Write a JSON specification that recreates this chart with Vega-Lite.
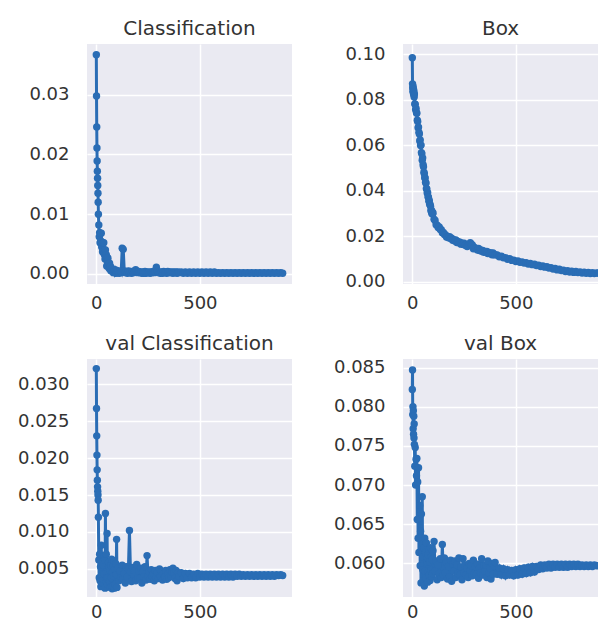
{
  "$schema": "https://vega.github.io/schema/vega-lite/v6.json",
  "padding": {"top": 19, "left": 0, "right": 0, "bottom": 0},
  "background": "white",
  "datasets": {
    "loss": [
      {"e":0,"c":0.0367,"b":0.0985,"vc":0.0321,"vb":0.0822},
      {"e":1,"c":0.0298,"b":0.0870,"vc":0.0267,"vb":0.0847},
      {"e":2,"c":0.0246,"b":0.0852,"vc":0.0230,"vb":0.0790},
      {"e":3,"c":0.0211,"b":0.0838,"vc":0.0204,"vb":0.0800},
      {"e":4,"c":0.0189,"b":0.0858,"vc":0.0184,"vb":0.0772},
      {"e":5,"c":0.0172,"b":0.0830,"vc":0.0170,"vb":0.0795},
      {"e":6,"c":0.0160,"b":0.0845,"vc":0.0161,"vb":0.0765},
      {"e":7,"c":0.0148,"b":0.0822,"vc":0.0155,"vb":0.0788},
      {"e":8,"c":0.0135,"b":0.0835,"vc":0.0150,"vb":0.0760},
      {"e":9,"c":0.0120,"b":0.0812,"vc":0.0143,"vb":0.0778},
      {"e":10,"c":0.0100,"b":0.0825,"vc":0.0120,"vb":0.0752},
      {"e":12,"c":0.0082,"b":0.0782,"vc":0.0062,"vb":0.0724},
      {"e":14,"c":0.0062,"b":0.0780,"vc":0.0038,"vb":0.0748},
      {"e":16,"c":0.0069,"b":0.0756,"vc":0.0070,"vb":0.0700},
      {"e":18,"c":0.0052,"b":0.0762,"vc":0.0034,"vb":0.0733},
      {"e":20,"c":0.0068,"b":0.0743,"vc":0.0053,"vb":0.0712},
      {"e":22,"c":0.0055,"b":0.0741,"vc":0.0026,"vb":0.0734},
      {"e":24,"c":0.0068,"b":0.0710,"vc":0.0082,"vb":0.0656},
      {"e":26,"c":0.0045,"b":0.0705,"vc":0.0041,"vb":0.0704},
      {"e":28,"c":0.0052,"b":0.0677,"vc":0.0060,"vb":0.0632},
      {"e":30,"c":0.0037,"b":0.0680,"vc":0.0031,"vb":0.0722},
      {"e":32,"c":0.0052,"b":0.0657,"vc":0.0055,"vb":0.0614},
      {"e":34,"c":0.0041,"b":0.0650,"vc":0.0036,"vb":0.0658},
      {"e":36,"c":0.0052,"b":0.0619,"vc":0.0067,"vb":0.0674},
      {"e":38,"c":0.0033,"b":0.0624,"vc":0.0043,"vb":0.0597},
      {"e":40,"c":0.0040,"b":0.0599,"vc":0.0062,"vb":0.0641},
      {"e":42,"c":0.0025,"b":0.0601,"vc":0.0024,"vb":0.0575},
      {"e":44,"c":0.0040,"b":0.0568,"vc":0.0125,"vb":0.0663},
      {"e":46,"c":0.0028,"b":0.0563,"vc":0.0034,"vb":0.0614},
      {"e":48,"c":0.0032,"b":0.0535,"vc":0.0070,"vb":0.0685},
      {"e":50,"c":0.0013,"b":0.0544,"vc":0.0038,"vb":0.0592},
      {"e":52,"c":0.0028,"b":0.0515,"vc":0.0098,"vb":0.0608},
      {"e":54,"c":0.0018,"b":0.0506,"vc":0.0029,"vb":0.0578},
      {"e":56,"c":0.0026,"b":0.0482,"vc":0.0057,"vb":0.0620},
      {"e":58,"c":0.0012,"b":0.0475,"vc":0.0038,"vb":0.0571},
      {"e":60,"c":0.0017,"b":0.0458,"vc":0.0054,"vb":0.0632},
      {"e":62,"c":0.0009,"b":0.0457,"vc":0.0059,"vb":0.0590},
      {"e":64,"c":0.0018,"b":0.0438,"vc":0.0033,"vb":0.0614},
      {"e":66,"c":0.0010,"b":0.0434,"vc":0.0048,"vb":0.0581},
      {"e":68,"c":0.0013,"b":0.0410,"vc":0.0025,"vb":0.0626},
      {"e":70,"c":0.0005,"b":0.0408,"vc":0.0055,"vb":0.0602},
      {"e":72,"c":0.0009,"b":0.0391,"vc":0.0038,"vb":0.0607},
      {"e":74,"c":0.0006,"b":0.0392,"vc":0.0063,"vb":0.0576},
      {"e":76,"c":0.0009,"b":0.0374,"vc":0.0023,"vb":0.0611},
      {"e":78,"c":0.0005,"b":0.0371,"vc":0.0046,"vb":0.0589},
      {"e":80,"c":0.0007,"b":0.0354,"vc":0.0027,"vb":0.0618},
      {"e":82,"c":0.0002,"b":0.0358,"vc":0.0054,"vb":0.0585},
      {"e":84,"c":0.0005,"b":0.0341,"vc":0.0040,"vb":0.0602},
      {"e":86,"c":0.0003,"b":0.0339,"vc":0.0061,"vb":0.0578},
      {"e":88,"c":0.0007,"b":0.0332,"vc":0.0024,"vb":0.0620},
      {"e":90,"c":0.0003,"b":0.0313,"vc":0.0050,"vb":0.0591},
      {"e":92,"c":0.0005,"b":0.0315,"vc":0.0029,"vb":0.0609},
      {"e":94,"c":0.0001,"b":0.0301,"vc":0.0057,"vb":0.0583},
      {"e":96,"c":0.0006,"b":0.0309,"vc":0.0042,"vb":0.0605},
      {"e":98,"c":0.0002,"b":0.0298,"vc":0.0090,"vb":0.0587},
      {"e":100,"c":0.0005,"b":0.0303,"vc":0.0025,"vb":0.0616},
      {"e":105,"c":0.0004,"b":0.0275,"vc":0.0051,"vb":0.0628},
      {"e":110,"c":0.0001,"b":0.0270,"vc":0.0034,"vb":0.0590},
      {"e":115,"c":0.0005,"b":0.0251,"vc":0.0047,"vb":0.0603},
      {"e":120,"c":0.0002,"b":0.0249,"vc":0.0038,"vb":0.0579},
      {"e":125,"c":0.0043,"b":0.0239,"vc":0.0055,"vb":0.0598},
      {"e":130,"c":0.0041,"b":0.0241,"vc":0.0037,"vb":0.0587},
      {"e":135,"c":0.0005,"b":0.0230,"vc":0.0044,"vb":0.0606},
      {"e":140,"c":0.0002,"b":0.0229,"vc":0.0031,"vb":0.0582},
      {"e":145,"c":0.0004,"b":0.0216,"vc":0.0053,"vb":0.0624},
      {"e":150,"c":0.0001,"b":0.0217,"vc":0.0039,"vb":0.0585},
      {"e":155,"c":0.0005,"b":0.0208,"vc":0.0050,"vb":0.0607},
      {"e":160,"c":0.0002,"b":0.0208,"vc":0.0102,"vb":0.0588},
      {"e":165,"c":0.0004,"b":0.0197,"vc":0.0046,"vb":0.0601},
      {"e":170,"c":0.0001,"b":0.0199,"vc":0.0033,"vb":0.0580},
      {"e":175,"c":0.0004,"b":0.0194,"vc":0.0052,"vb":0.0596},
      {"e":180,"c":0.0002,"b":0.0199,"vc":0.0042,"vb":0.0583},
      {"e":185,"c":0.0005,"b":0.0191,"vc":0.0048,"vb":0.0604},
      {"e":190,"c":0.0007,"b":0.0192,"vc":0.0034,"vb":0.0577},
      {"e":195,"c":0.0003,"b":0.0183,"vc":0.0056,"vb":0.0599},
      {"e":200,"c":0.0002,"b":0.0186,"vc":0.0038,"vb":0.0590},
      {"e":205,"c":0.0004,"b":0.0180,"vc":0.0047,"vb":0.0603},
      {"e":210,"c":0.0002,"b":0.0184,"vc":0.0037,"vb":0.0582},
      {"e":215,"c":0.0003,"b":0.0173,"vc":0.0051,"vb":0.0598},
      {"e":220,"c":0.0001,"b":0.0178,"vc":0.0031,"vb":0.0587},
      {"e":225,"c":0.0003,"b":0.0172,"vc":0.0046,"vb":0.0607},
      {"e":230,"c":0.0001,"b":0.0175,"vc":0.0039,"vb":0.0585},
      {"e":235,"c":0.0004,"b":0.0166,"vc":0.0053,"vb":0.0595},
      {"e":240,"c":0.0001,"b":0.0170,"vc":0.0035,"vb":0.0579},
      {"e":245,"c":0.0003,"b":0.0165,"vc":0.0068,"vb":0.0606},
      {"e":250,"c":0.0002,"b":0.0170,"vc":0.0040,"vb":0.0588},
      {"e":255,"c":0.0003,"b":0.0161,"vc":0.0046,"vb":0.0598},
      {"e":260,"c":0.0001,"b":0.0162,"vc":0.0036,"vb":0.0585},
      {"e":265,"c":0.0003,"b":0.0156,"vc":0.0049,"vb":0.0594},
      {"e":270,"c":0.0002,"b":0.0162,"vc":0.0040,"vb":0.0582},
      {"e":275,"c":0.0004,"b":0.0165,"vc":0.0044,"vb":0.0600},
      {"e":280,"c":0.0002,"b":0.0172,"vc":0.0034,"vb":0.0591},
      {"e":285,"c":0.0003,"b":0.0166,"vc":0.0048,"vb":0.0597},
      {"e":290,"c":0.0011,"b":0.0162,"vc":0.0038,"vb":0.0584},
      {"e":295,"c":0.0004,"b":0.0146,"vc":0.0045,"vb":0.0604},
      {"e":300,"c":0.0002,"b":0.0152,"vc":0.0037,"vb":0.0587},
      {"e":305,"c":0.0003,"b":0.0147,"vc":0.0050,"vb":0.0596},
      {"e":310,"c":0.0001,"b":0.0147,"vc":0.0040,"vb":0.0586},
      {"e":315,"c":0.0003,"b":0.0140,"vc":0.0047,"vb":0.0599},
      {"e":320,"c":0.0001,"b":0.0147,"vc":0.0035,"vb":0.0581},
      {"e":325,"c":0.0004,"b":0.0138,"vc":0.0044,"vb":0.0594},
      {"e":330,"c":0.0002,"b":0.0140,"vc":0.0039,"vb":0.0588},
      {"e":335,"c":0.0003,"b":0.0135,"vc":0.0048,"vb":0.0606},
      {"e":340,"c":0.0001,"b":0.0138,"vc":0.0036,"vb":0.0585},
      {"e":345,"c":0.0004,"b":0.0130,"vc":0.0043,"vb":0.0597},
      {"e":350,"c":0.0002,"b":0.0134,"vc":0.0038,"vb":0.0590},
      {"e":355,"c":0.0003,"b":0.0130,"vc":0.0049,"vb":0.0598},
      {"e":360,"c":0.0002,"b":0.0134,"vc":0.0040,"vb":0.0582},
      {"e":365,"c":0.0003,"b":0.0125,"vc":0.0046,"vb":0.0603},
      {"e":370,"c":0.0001,"b":0.0129,"vc":0.0051,"vb":0.0588},
      {"e":375,"c":0.0003,"b":0.0125,"vc":0.0044,"vb":0.0594},
      {"e":380,"c":0.0002,"b":0.0127,"vc":0.0037,"vb":0.0580},
      {"e":385,"c":0.0003,"b":0.0119,"vc":0.0048,"vb":0.0600},
      {"e":390,"c":0.0001,"b":0.0127,"vc":0.0034,"vb":0.0586},
      {"e":395,"c":0.0003,"b":0.0119,"vc":0.0045,"vb":0.0597},
      {"e":400,"c":0.0002,"b":0.0120,"vc":0.0040,"vb":0.0601},
      {"e":410,"c":0.0003,"b":0.0118,"vc":0.0045,"vb":0.0586},
      {"e":420,"c":0.0001,"b":0.0111,"vc":0.0037,"vb":0.0594},
      {"e":430,"c":0.0003,"b":0.0113,"vc":0.0044,"vb":0.0585},
      {"e":440,"c":0.0001,"b":0.0106,"vc":0.0038,"vb":0.0593},
      {"e":450,"c":0.0003,"b":0.0107,"vc":0.0044,"vb":0.0584},
      {"e":460,"c":0.0001,"b":0.0100,"vc":0.0038,"vb":0.0592},
      {"e":470,"c":0.0003,"b":0.0102,"vc":0.0043,"vb":0.0585},
      {"e":480,"c":0.0001,"b":0.0095,"vc":0.0038,"vb":0.0591},
      {"e":490,"c":0.0003,"b":0.0096,"vc":0.0044,"vb":0.0584},
      {"e":500,"c":0.0001,"b":0.0090,"vc":0.0039,"vb":0.0592},
      {"e":510,"c":0.0003,"b":0.0092,"vc":0.0043,"vb":0.0585},
      {"e":520,"c":0.0001,"b":0.0086,"vc":0.0039,"vb":0.0593},
      {"e":530,"c":0.0003,"b":0.0088,"vc":0.0043,"vb":0.0586},
      {"e":540,"c":0.0001,"b":0.0083,"vc":0.0039,"vb":0.0594},
      {"e":550,"c":0.0003,"b":0.0085,"vc":0.0043,"vb":0.0587},
      {"e":560,"c":0.0001,"b":0.0079,"vc":0.0039,"vb":0.0595},
      {"e":570,"c":0.0003,"b":0.0081,"vc":0.0043,"vb":0.0588},
      {"e":580,"c":0.0001,"b":0.0076,"vc":0.0039,"vb":0.0596},
      {"e":590,"c":0.0002,"b":0.0078,"vc":0.0043,"vb":0.0589},
      {"e":600,"c":0.0001,"b":0.0072,"vc":0.0039,"vb":0.0596},
      {"e":610,"c":0.0002,"b":0.0074,"vc":0.0043,"vb":0.0592},
      {"e":620,"c":0.0001,"b":0.0068,"vc":0.0039,"vb":0.0598},
      {"e":630,"c":0.0002,"b":0.0070,"vc":0.0043,"vb":0.0593},
      {"e":640,"c":0.0001,"b":0.0065,"vc":0.0039,"vb":0.0598},
      {"e":650,"c":0.0002,"b":0.0067,"vc":0.0043,"vb":0.0594},
      {"e":660,"c":0.0001,"b":0.0061,"vc":0.0039,"vb":0.0599},
      {"e":670,"c":0.0002,"b":0.0063,"vc":0.0043,"vb":0.0594},
      {"e":680,"c":0.0001,"b":0.0057,"vc":0.0040,"vb":0.0599},
      {"e":690,"c":0.0002,"b":0.0059,"vc":0.0043,"vb":0.0595},
      {"e":700,"c":0.0001,"b":0.0053,"vc":0.0040,"vb":0.0599},
      {"e":710,"c":0.0002,"b":0.0056,"vc":0.0042,"vb":0.0595},
      {"e":720,"c":0.0001,"b":0.0050,"vc":0.0040,"vb":0.0599},
      {"e":730,"c":0.0002,"b":0.0052,"vc":0.0042,"vb":0.0595},
      {"e":740,"c":0.0001,"b":0.0046,"vc":0.0040,"vb":0.0599},
      {"e":750,"c":0.0002,"b":0.0049,"vc":0.0042,"vb":0.0595},
      {"e":760,"c":0.0001,"b":0.0044,"vc":0.0040,"vb":0.0599},
      {"e":770,"c":0.0002,"b":0.0047,"vc":0.0042,"vb":0.0596},
      {"e":780,"c":0.0001,"b":0.0042,"vc":0.0040,"vb":0.0599},
      {"e":790,"c":0.0002,"b":0.0046,"vc":0.0042,"vb":0.0596},
      {"e":800,"c":0.0001,"b":0.0041,"vc":0.0040,"vb":0.0599},
      {"e":810,"c":0.0002,"b":0.0044,"vc":0.0042,"vb":0.0596},
      {"e":820,"c":0.0001,"b":0.0039,"vc":0.0040,"vb":0.0598},
      {"e":830,"c":0.0002,"b":0.0043,"vc":0.0042,"vb":0.0596},
      {"e":840,"c":0.0001,"b":0.0038,"vc":0.0040,"vb":0.0598},
      {"e":850,"c":0.0002,"b":0.0042,"vc":0.0042,"vb":0.0596},
      {"e":860,"c":0.0001,"b":0.0037,"vc":0.0040,"vb":0.0598},
      {"e":870,"c":0.0002,"b":0.0041,"vc":0.0042,"vb":0.0596},
      {"e":880,"c":0.0001,"b":0.0037,"vc":0.0041,"vb":0.0598},
      {"e":890,"c":0.0002,"b":0.0040,"vc":0.0042,"vb":0.0597},
      {"e":900,"c":0.0001,"b":0.0038,"vc":0.0041,"vb":0.0597}
    ]
  },
  "config": {
    "font": "DejaVu Sans",
    "view": {"fill": "#EAEAF2", "stroke": null},
    "mark": {"color": "#2a6db5"},
    "axis": {"domain": false, "ticks": false, "grid": true, "gridColor": "#ffffff", "gridWidth": 1.5, "labelColor": "#333333", "labelFontSize": 18, "title": null},
    "axisY": {"labelPadding": 18, "minExtent": 87, "maxExtent": 87},
    "axisX": {"labelPadding": 10, "minExtent": 30, "maxExtent": 30},
    "title": {"fontSize": 20, "fontWeight": "normal", "color": "#333333", "anchor": "middle", "offset": 5}
  },
  "spacing": 19,
  "vconcat": [
    {
      "spacing": 24,
      "hconcat": [
        {
          "title": "Classification",
          "width": 205, "height": 240,
          "data": {"name": "loss"},
          "encoding": {
            "x": {"field": "e", "type": "quantitative", "scale": {"domain": [-45, 945], "nice": false, "zero": false}, "axis": {"values": [0, 500]}},
            "y": {"field": "c", "type": "quantitative", "scale": {"domain": [-0.0017, 0.0385], "nice": false, "zero": false}, "axis": {"values": [0, 0.01, 0.02, 0.03], "format": ".2f"}}
          },
          "layer": [
            {"mark": {"type": "line", "strokeWidth": 3, "clip": true}},
            {"mark": {"type": "circle", "size": 55, "opacity": 1, "clip": true}}
          ]
        },
        {
          "title": "Box",
          "width": 195, "height": 240,
          "data": {"name": "loss"},
          "encoding": {
            "x": {"field": "e", "type": "quantitative", "scale": {"domain": [-45, 897], "nice": false, "zero": false}, "axis": {"values": [0, 500]}},
            "y": {"field": "b", "type": "quantitative", "scale": {"domain": [-0.0009, 0.1045], "nice": false, "zero": false}, "axis": {"values": [0, 0.02, 0.04, 0.06, 0.08, 0.1], "format": ".2f"}}
          },
          "layer": [
            {"mark": {"type": "line", "strokeWidth": 3, "clip": true}},
            {"mark": {"type": "circle", "size": 55, "opacity": 1, "clip": true}}
          ]
        }
      ]
    },
    {
      "spacing": 24,
      "hconcat": [
        {
          "title": "val Classification",
          "width": 205, "height": 238,
          "data": {"name": "loss"},
          "encoding": {
            "x": {"field": "e", "type": "quantitative", "scale": {"domain": [-45, 945], "nice": false, "zero": false}, "axis": {"values": [0, 500], "labelPadding": 6, "minExtent": 22, "maxExtent": 22}},
            "y": {"field": "vc", "type": "quantitative", "scale": {"domain": [0.0012, 0.0334], "nice": false, "zero": false}, "axis": {"values": [0.005, 0.01, 0.015, 0.02, 0.025, 0.03], "format": ".3f"}}
          },
          "layer": [
            {"mark": {"type": "line", "strokeWidth": 3, "clip": true}},
            {"mark": {"type": "circle", "size": 55, "opacity": 1, "clip": true}}
          ]
        },
        {
          "title": "val Box",
          "width": 195, "height": 238,
          "data": {"name": "loss"},
          "encoding": {
            "x": {"field": "e", "type": "quantitative", "scale": {"domain": [-45, 897], "nice": false, "zero": false}, "axis": {"values": [0, 500], "labelPadding": 6, "minExtent": 22, "maxExtent": 22}},
            "y": {"field": "vb", "type": "quantitative", "scale": {"domain": [0.0557, 0.0861], "nice": false, "zero": false}, "axis": {"values": [0.06, 0.065, 0.07, 0.075, 0.08, 0.085], "format": ".3f"}}
          },
          "layer": [
            {"mark": {"type": "line", "strokeWidth": 3, "clip": true}},
            {"mark": {"type": "circle", "size": 55, "opacity": 1, "clip": true}}
          ]
        }
      ]
    }
  ]
}
